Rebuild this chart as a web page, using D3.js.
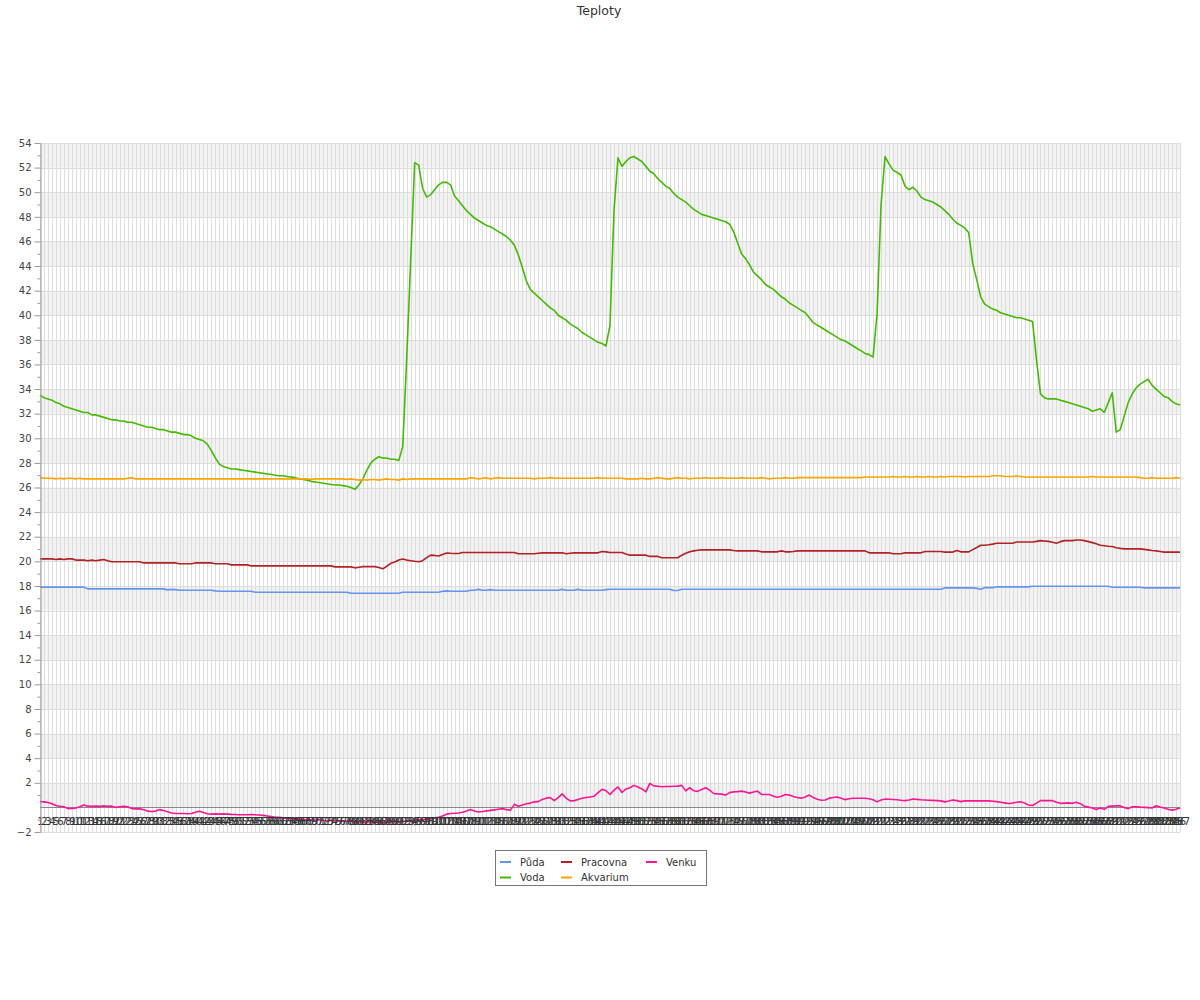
<!DOCTYPE html>
<html><head><meta charset="utf-8">
<script src="https://cdn.jsdelivr.net/npm/d3@7"></script>
<style>body{margin:0;background:#fff;} svg{display:block;font-family:"DejaVu Sans",sans-serif;}</style>
</head><body><svg id="c" width="1200" height="1000"></svg>
<script>
const categories = d3.range(1, 288).map(String);

const puda = [
17.9,17.9,17.9,17.9,17.9,17.9,17.9,17.9,17.9,17.9,
17.9,17.9,17.76,17.76,17.76,17.76,17.76,17.76,17.76,17.76,
17.76,17.76,17.76,17.76,17.76,17.76,17.76,17.76,17.76,17.76,
17.76,17.76,17.68,17.72,17.7,17.65,17.65,17.65,17.65,17.65,
17.65,17.65,17.65,17.65,17.6,17.57,17.57,17.57,17.57,17.57,
17.57,17.57,17.57,17.57,17.49,17.49,17.49,17.49,17.49,17.49,
17.49,17.49,17.49,17.49,17.49,17.49,17.49,17.49,17.49,17.49,
17.49,17.49,17.49,17.49,17.49,17.49,17.49,17.49,17.41,17.41,
17.41,17.41,17.41,17.41,17.41,17.41,17.41,17.41,17.41,17.41,
17.41,17.49,17.49,17.49,17.49,17.49,17.49,17.49,17.49,17.49,
17.49,17.57,17.6,17.57,17.57,17.57,17.57,17.57,17.65,17.65,
17.72,17.65,17.65,17.7,17.65,17.65,17.65,17.65,17.65,17.65,
17.65,17.65,17.65,17.65,17.65,17.65,17.65,17.65,17.65,17.65,
17.65,17.72,17.65,17.65,17.65,17.72,17.65,17.65,17.65,17.65,
17.65,17.65,17.7,17.73,17.73,17.73,17.73,17.73,17.73,17.73,
17.73,17.73,17.73,17.73,17.73,17.73,17.73,17.73,17.73,17.63,
17.63,17.73,17.73,17.73,17.73,17.73,17.73,17.73,17.73,17.73,
17.73,17.73,17.73,17.73,17.73,17.73,17.73,17.73,17.73,17.73,
17.73,17.73,17.73,17.73,17.73,17.73,17.73,17.73,17.73,17.73,
17.73,17.73,17.73,17.73,17.73,17.73,17.73,17.73,17.73,17.73,
17.73,17.73,17.73,17.73,17.73,17.73,17.73,17.73,17.73,17.73,
17.73,17.73,17.73,17.73,17.73,17.73,17.73,17.73,17.73,17.73,
17.73,17.73,17.73,17.73,17.73,17.73,17.73,17.84,17.84,17.84,
17.84,17.84,17.84,17.84,17.84,17.8,17.73,17.86,17.86,17.86,
17.92,17.92,17.92,17.92,17.92,17.92,17.92,17.92,17.92,17.97,
17.97,17.97,17.97,17.97,17.97,17.97,17.97,17.97,17.97,17.97,
17.97,17.97,17.97,17.97,17.97,17.97,17.97,17.97,17.97,17.89,
17.89,17.89,17.89,17.89,17.89,17.89,17.89,17.84,17.84,17.84,
17.84,17.84,17.84,17.84,17.84,17.84,17.84
];

const voda = [
33.5,33.3,33.2,33.1,32.9,32.8,32.6,32.5,32.4,32.3,
32.2,32.1,32.1,31.9,31.9,31.8,31.7,31.6,31.5,31.5,
31.4,31.4,31.3,31.3,31.2,31.1,31.0,30.9,30.9,30.8,
30.7,30.7,30.6,30.5,30.5,30.4,30.3,30.3,30.2,30.0,
29.9,29.8,29.5,29.0,28.4,27.9,27.7,27.6,27.5,27.5,
27.45,27.4,27.35,27.3,27.25,27.2,27.15,27.1,27.05,27.0,
26.95,26.95,26.9,26.85,26.8,26.7,26.65,26.6,26.5,26.45,
26.4,26.35,26.3,26.25,26.2,26.2,26.15,26.1,26.0,25.85,
26.2,26.7,27.4,28.0,28.3,28.5,28.4,28.4,28.3,28.3,
28.2,29.3,36.5,44.5,52.4,52.2,50.3,49.6,49.8,50.2,
50.6,50.8,50.8,50.6,49.7,49.3,48.9,48.5,48.2,47.9,
47.7,47.5,47.3,47.2,47.0,46.8,46.6,46.4,46.1,45.7,
44.9,43.9,42.8,42.1,41.8,41.5,41.2,40.9,40.6,40.4,
40.0,39.8,39.6,39.3,39.1,38.9,38.6,38.4,38.2,38.0,
37.8,37.7,37.5,39.2,48.5,52.8,52.1,52.5,52.8,52.9,
52.7,52.5,52.1,51.7,51.5,51.1,50.8,50.5,50.3,49.9,
49.6,49.4,49.2,48.9,48.6,48.4,48.2,48.1,48.0,47.9,
47.8,47.7,47.6,47.4,46.8,45.9,45.0,44.6,44.1,43.5,
43.2,42.9,42.5,42.3,42.1,41.8,41.5,41.3,41.0,40.8,
40.6,40.4,40.2,39.8,39.4,39.2,39.0,38.8,38.6,38.4,
38.2,38.0,37.9,37.7,37.5,37.3,37.1,36.9,36.8,36.6,
40.1,49.0,52.9,52.3,51.8,51.6,51.4,50.5,50.2,50.4,
50.1,49.6,49.4,49.3,49.2,49.0,48.8,48.5,48.2,47.8,
47.5,47.3,47.1,46.7,44.2,42.9,41.5,40.9,40.7,40.5,
40.4,40.2,40.1,40.0,39.9,39.8,39.8,39.7,39.6,39.5,
36.4,33.6,33.3,33.2,33.2,33.2,33.1,33.0,32.9,32.8,
32.7,32.6,32.5,32.4,32.2,32.3,32.4,32.1,32.9,33.7,
30.5,30.7,31.8,32.9,33.6,34.1,34.4,34.6,34.8,34.3,
34.0,33.7,33.4,33.3,33.0,32.8,32.7
];

const pracovna = [
20.2,20.2,20.2,20.2,20.15,20.2,20.15,20.2,20.2,20.1,
20.1,20.1,20.05,20.1,20.05,20.1,20.15,20.05,19.97,19.97,
19.97,19.97,19.97,19.97,19.97,19.97,19.87,19.87,19.87,19.87,
19.87,19.87,19.87,19.87,19.87,19.8,19.8,19.8,19.8,19.87,
19.87,19.87,19.87,19.87,19.8,19.8,19.8,19.8,19.71,19.71,
19.71,19.71,19.71,19.63,19.63,19.63,19.63,19.63,19.63,19.63,
19.63,19.63,19.63,19.63,19.63,19.63,19.63,19.63,19.63,19.63,
19.63,19.63,19.63,19.63,19.55,19.55,19.55,19.55,19.55,19.47,
19.52,19.57,19.57,19.57,19.57,19.5,19.39,19.6,19.84,19.95,
20.1,20.19,20.1,20.05,20.0,19.97,20.05,20.3,20.5,20.48,
20.43,20.55,20.67,20.65,20.64,20.64,20.72,20.72,20.72,20.72,
20.72,20.72,20.72,20.72,20.72,20.72,20.72,20.72,20.72,20.72,
20.61,20.61,20.61,20.61,20.61,20.65,20.69,20.69,20.69,20.69,
20.69,20.69,20.61,20.65,20.69,20.69,20.69,20.69,20.69,20.69,
20.69,20.8,20.77,20.72,20.72,20.72,20.72,20.6,20.5,20.5,
20.5,20.5,20.5,20.4,20.4,20.4,20.29,20.29,20.29,20.29,
20.29,20.5,20.65,20.77,20.85,20.9,20.93,20.93,20.93,20.93,
20.93,20.93,20.93,20.93,20.88,20.85,20.85,20.85,20.85,20.85,
20.85,20.77,20.77,20.77,20.77,20.77,20.85,20.77,20.77,20.8,
20.85,20.85,20.85,20.85,20.85,20.85,20.85,20.85,20.85,20.85,
20.85,20.85,20.85,20.85,20.85,20.85,20.85,20.85,20.69,20.69,
20.69,20.69,20.69,20.69,20.61,20.61,20.61,20.69,20.69,20.69,
20.69,20.69,20.8,20.8,20.8,20.8,20.8,20.75,20.75,20.75,
20.88,20.77,20.77,20.77,20.95,21.12,21.31,21.31,21.35,21.4,
21.47,21.47,21.47,21.47,21.47,21.57,21.57,21.57,21.57,21.57,
21.62,21.68,21.65,21.62,21.55,21.47,21.6,21.68,21.68,21.68,
21.73,21.73,21.68,21.6,21.52,21.42,21.31,21.27,21.23,21.2,
21.1,21.05,21.01,21.01,21.01,21.01,21.01,20.97,20.93,20.88,
20.85,20.8,20.75,20.75,20.75,20.75,20.75
];

const akvarium = [
26.8,26.75,26.75,26.75,26.7,26.75,26.7,26.75,26.75,26.7,
26.75,26.7,26.7,26.7,26.7,26.7,26.7,26.7,26.7,26.7,
26.7,26.7,26.75,26.8,26.7,26.7,26.7,26.7,26.7,26.7,
26.7,26.7,26.7,26.7,26.7,26.7,26.7,26.7,26.7,26.7,
26.7,26.7,26.7,26.7,26.7,26.7,26.7,26.7,26.7,26.7,
26.7,26.7,26.7,26.7,26.7,26.7,26.7,26.7,26.7,26.7,
26.7,26.7,26.7,26.7,26.7,26.7,26.7,26.7,26.65,26.7,
26.7,26.7,26.7,26.7,26.7,26.7,26.7,26.65,26.7,26.65,
26.6,26.65,26.6,26.65,26.65,26.6,26.65,26.7,26.65,26.65,
26.6,26.7,26.65,26.7,26.7,26.7,26.7,26.7,26.7,26.7,
26.7,26.7,26.7,26.7,26.7,26.7,26.7,26.7,26.8,26.75,
26.7,26.75,26.8,26.7,26.75,26.8,26.75,26.75,26.75,26.75,
26.75,26.75,26.75,26.75,26.7,26.75,26.75,26.75,26.8,26.75,
26.75,26.75,26.75,26.75,26.75,26.75,26.75,26.75,26.75,26.75,
26.8,26.75,26.75,26.75,26.75,26.75,26.75,26.7,26.7,26.7,
26.7,26.75,26.7,26.7,26.75,26.8,26.75,26.7,26.7,26.75,
26.8,26.75,26.75,26.7,26.75,26.75,26.75,26.8,26.75,26.75,
26.75,26.8,26.75,26.75,26.75,26.75,26.8,26.75,26.75,26.75,
26.75,26.8,26.75,26.7,26.75,26.75,26.75,26.8,26.75,26.75,
26.8,26.8,26.8,26.8,26.8,26.8,26.8,26.8,26.8,26.8,
26.8,26.8,26.8,26.8,26.8,26.8,26.8,26.85,26.85,26.85,
26.85,26.85,26.85,26.85,26.9,26.85,26.85,26.9,26.85,26.85,
26.9,26.85,26.85,26.9,26.85,26.85,26.9,26.85,26.9,26.9,
26.9,26.9,26.85,26.9,26.9,26.9,26.9,26.9,26.9,26.95,
26.95,26.95,26.9,26.9,26.9,26.95,26.9,26.85,26.85,26.85,
26.85,26.85,26.85,26.85,26.85,26.85,26.85,26.85,26.85,26.85,
26.85,26.85,26.85,26.85,26.9,26.85,26.85,26.85,26.85,26.85,
26.85,26.85,26.85,26.85,26.85,26.85,26.8,26.75,26.75,26.8,
26.75,26.75,26.75,26.75,26.75,26.8,26.75
];

const venku = [
0.47,0.45,0.4,0.3,0.15,0.08,0.05,-0.1,-0.08,-0.05,
0.05,0.2,0.1,0.08,0.1,0.08,0.12,0.08,0.1,0.0,
0.05,0.08,0.05,-0.1,-0.12,-0.1,-0.2,-0.3,-0.33,-0.3,
-0.18,-0.25,-0.35,-0.45,-0.5,-0.5,-0.5,-0.52,-0.5,-0.4,
-0.32,-0.42,-0.52,-0.55,-0.53,-0.55,-0.53,-0.55,-0.57,-0.58,
-0.6,-0.6,-0.6,-0.58,-0.6,-0.62,-0.65,-0.7,-0.75,-0.8,
-0.8,-0.85,-0.9,-0.9,-0.95,-0.95,-1.0,-0.98,-1.0,-1.05,
-1.0,-1.05,-1.1,-1.05,-1.1,-1.1,-1.15,-1.1,-1.15,-1.2,
-1.15,-1.2,-1.2,-1.15,-1.2,-1.2,-1.25,-1.2,-1.2,-1.15,
-1.2,-1.15,-1.1,-1.1,-1.05,-1.0,-1.0,-0.95,-0.9,-0.85,
-0.8,-0.7,-0.55,-0.5,-0.48,-0.45,-0.4,-0.3,-0.18,-0.3,
-0.37,-0.33,-0.28,-0.24,-0.2,-0.15,-0.1,-0.18,-0.24,0.25,
0.1,0.2,0.3,0.35,0.45,0.47,0.65,0.75,0.8,0.55,
0.8,1.1,0.75,0.53,0.55,0.65,0.74,0.8,0.85,0.9,
1.2,1.47,1.35,1.05,1.4,1.66,1.21,1.5,1.6,1.79,
1.65,1.5,1.26,1.95,1.75,1.72,1.68,1.7,1.7,1.72,
1.73,1.79,1.34,1.6,1.35,1.3,1.45,1.6,1.4,1.13,
1.1,1.08,1.0,1.2,1.26,1.28,1.32,1.25,1.16,1.25,
1.32,1.05,1.05,1.05,0.9,0.82,0.9,1.05,1.0,0.88,
0.8,0.75,0.85,1.0,0.8,0.66,0.58,0.6,0.75,0.8,
0.84,0.75,0.63,0.7,0.74,0.74,0.74,0.74,0.7,0.62,
0.45,0.6,0.68,0.66,0.64,0.62,0.58,0.55,0.6,0.68,
0.65,0.62,0.6,0.58,0.57,0.55,0.53,0.45,0.52,0.6,
0.55,0.47,0.53,0.53,0.53,0.53,0.53,0.53,0.53,0.5,
0.47,0.42,0.37,0.32,0.35,0.42,0.45,0.35,0.2,0.15,
0.35,0.55,0.55,0.55,0.55,0.42,0.33,0.35,0.37,0.33,
0.42,0.3,0.08,0.02,-0.05,-0.18,-0.05,-0.16,0.08,0.1,
0.12,0.12,0.0,-0.1,0.05,0.05,0.02,0.0,-0.02,-0.05,
0.13,0.03,-0.05,-0.15,-0.22,-0.15,-0.05
];

const seriesNames = ["Půda", "Voda", "Pracovna", "Akvarium", "Venku"];
const seriesColors = ["#6495ed", "#44bb00", "#b22222", "#ffa500", "#ff1493"];
const seriesData = [puda, voda, pracovna, akvarium, venku];
const yTickValues = [-2,2,4,6,8,10,12,14,16,18,20,22,24,26,28,30,32,34,36,38,40,42,44,46,48,50,52,54];
const yMinorValues = [-1,1,3,5,7,9,11,13,15,17,19,21,23,25,27,29,31,33,35,37,39,41,43,45,47,49,51,53];
const yGridValues = [-2,0,2,4,6,8,10,12,14,16,18,20,22,24,26,28,30,32,34,36,38,40,42,44,46,48,50,52,54];
const bandStarts = [0,4,8,12,16,20,24,28,32,36,40,44,48,52];
const chartTitle = "Teploty";

const svg = d3.select("#c");
const x = d3.scalePoint().domain(categories).range([40, 1180]);
const y = d3.scaleLinear().domain([-2, 54]).range([832, 143]);

// bands
svg.append("g").selectAll("rect").data(bandStarts).join("rect")
  .attr("x", 40).attr("width", 1140)
  .attr("y", d => y(d + 2)).attr("height", d => y(d) - y(d + 2))
  .attr("fill", "#f2f2f2");

// vertical grid
svg.append("g").attr("shape-rendering", "crispEdges").selectAll("line").data(categories).join("line")
  .attr("x1", d => Math.round(x(d)) + 0.5).attr("x2", d => Math.round(x(d)) + 0.5)
  .attr("y1", y(54)).attr("y2", y(-2))
  .attr("stroke", "#dddddd").attr("stroke-width", 1);

// horizontal grid
svg.append("g").attr("shape-rendering", "crispEdges").selectAll("line").data(yGridValues).join("line")
  .attr("x1", 40).attr("x2", 1180)
  .attr("y1", d => Math.round(y(d)) + 0.5).attr("y2", d => Math.round(y(d)) + 0.5)
  .attr("stroke", "#dddddd");

// zero line
svg.append("line").attr("shape-rendering", "crispEdges")
  .attr("x1", 40).attr("x2", 1180)
  .attr("y1", Math.round(y(0)) + 0.5).attr("y2", Math.round(y(0)) + 0.5)
  .attr("stroke", "#888888");

// series lines
const line = d3.line().x((d, i) => x(categories[i])).y(d => y(d));
svg.append("g").selectAll("path").data(seriesData).join("path")
  .attr("d", d => line(d))
  .attr("fill", "none")
  .attr("stroke", (d, i) => seriesColors[i])
  .attr("stroke-width", 1.6)
  .attr("stroke-linejoin", "round");

// x axis labels (at zero line), drawn over the lines
const xAxis = d3.axisBottom(x).tickSize(0).tickPadding(10.5);
const gx = svg.append("g").attr("transform", `translate(0,${y(0)})`).call(xAxis);
gx.select(".domain").remove();
gx.selectAll("text").attr("font-size", 10).attr("font-family", "DejaVu Sans, sans-serif").attr("fill", "#333");

// y axis
const yAxis = d3.axisLeft(y).tickValues(yTickValues).tickSize(6).tickSizeOuter(0).tickPadding(3);
const gy = svg.append("g").attr("transform", "translate(40.5,0)").call(yAxis);
gy.select(".domain").attr("stroke", "#999");
gy.selectAll(".tick line").attr("stroke", "#999");
gy.selectAll("text").attr("font-size", 10).attr("font-family", "DejaVu Sans, sans-serif").attr("fill", "#444");
const yMinor = d3.axisLeft(y).tickValues(yMinorValues).tickSize(3).tickSizeOuter(0).tickFormat("");
const gym = svg.append("g").attr("transform", "translate(40.5,0)").call(yMinor);
gym.select(".domain").remove();
gym.selectAll(".tick line").attr("stroke", "#999");

// title
svg.append("text").attr("x", 599).attr("y", 15).attr("text-anchor", "middle")
  .attr("font-size", 12.5).attr("fill", "#333").text(chartTitle);

// legend
const lg = svg.append("g");
lg.append("rect").attr("x", 495.5).attr("y", 850.5).attr("width", 211).attr("height", 35)
  .attr("fill", "#fff").attr("stroke", "#777");
const legendCols = [500, 561, 646];
const legendRows = [862, 877.5];
const legendPos = [[0,0],[0,1],[1,0],[1,1],[2,0]];
seriesNames.forEach((name, i) => {
  const [c, r] = legendPos[i];
  const lx = legendCols[c], ly = legendRows[r];
  lg.append("line").attr("x1", lx).attr("x2", lx + 11).attr("y1", ly).attr("y2", ly)
    .attr("stroke", seriesColors[i]).attr("stroke-width", 2);
  lg.append("text").attr("x", lx + 20).attr("y", ly + 3.5)
    .attr("font-size", 10).attr("fill", "#333").text(name);
});
</script>
</body></html>
